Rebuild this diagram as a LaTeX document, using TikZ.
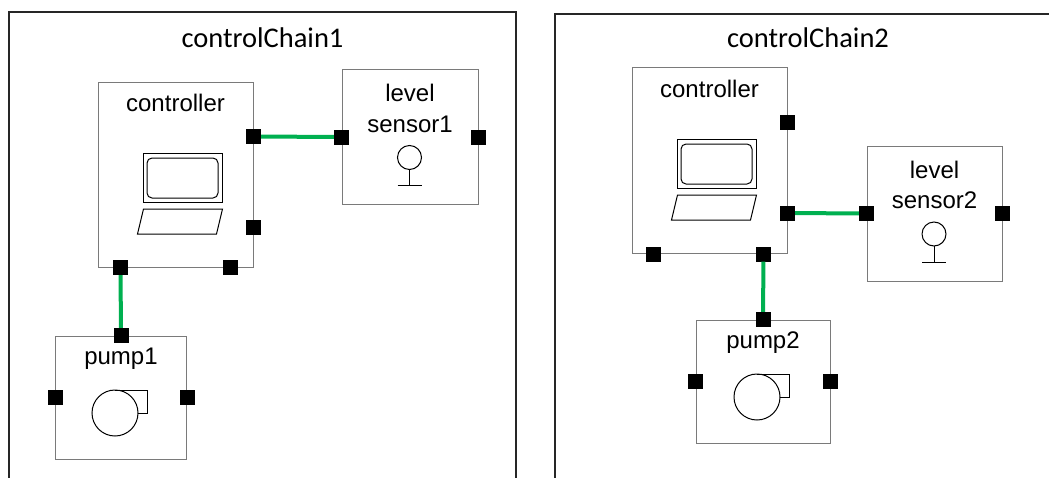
\documentclass[tikz,border=0pt]{standalone}
\usepackage{fontspec}
\setmainfont{Liberation Sans}
\newfontfamily\titlefont{Carlito}
\definecolor{wiregreen}{HTML}{00B050}
\definecolor{boxgray}{HTML}{7A7A7A}
\def\laptop#1{\begin{scope}[shift={(#1.center)},icon]
  \draw (-32,-21.5) rectangle (47,27.5);
  \draw[rounded corners=5pt] (-28.5,-16.5) rectangle (42.5,23.5);
  \draw (-32,34.5) -- (47,34.5) -- (41,59.5) -- (-38,59.5) -- cycle;
\end{scope}}
\def\pumpicon#1{\begin{scope}[shift={(#1.center)},icon]
  \draw (-6,15.5) circle[radius=23pt];
  \draw (-6,-7.5) -- (26.5,-7.5) -- (26.5,15.5) -- (17,15.5);
\end{scope}}
\def\sensoricon#1{\begin{scope}[shift={(#1.center)},icon]
  \draw (-0.5,20.5) circle[radius=12pt];
  \draw (-0.5,32.5) -- (-0.5,48.5) (-12.5,48.5) -- (11.5,48.5);
\end{scope}}
\def\dgreen{\draw[wire]}
\tikzset{
  frame/.style={draw=black!85, line width=1.5pt},
  block/.style={draw=boxgray, line width=1pt, inner sep=0pt},
  port/.style={fill=black, minimum size=15pt, inner sep=0pt},
  wire/.style={draw=wiregreen, line width=4pt},
  icon/.style={line width=1pt},
  lbl/.style={font=\fontsize{24}{29}\selectfont, inner sep=0pt},
  ttl/.style={font=\titlefont\fontsize{28.5}{34}\selectfont, inner sep=0pt}
}
\begin{document}
\begin{tikzpicture}[x=1pt,y=-1pt]
  \useasboundingbox (0,0) rectangle (1049,477);
  % left chain
  \draw[frame] (9,480) -- (9,12) -- (516,12) -- (516,480);
  \node[ttl] (ttlA) at (262.5,38) {controlChain1};
  \node[block, minimum width=155pt, minimum height=185pt] (ctrlA) at (175.5,174.5) {};
  \node[block, minimum width=136pt, minimum height=135pt] (sensA) at (410,137) {};
  \node[block, minimum width=131pt, minimum height=123pt] (pumpA) at (121,397.5) {};
  \node[lbl] (tcA) at ([yshift=-21.5pt]ctrlA.north) {controller};
  \node[lbl] (tsA1) at ([yshift=-24pt]sensA.north) {level};
  \node[lbl] (tsA2) at ([yshift=-55pt]sensA.north) {sensor1};
  \node[lbl] (tpA) at ([yshift=-23pt]pumpA.north) {pump1};
  \laptop{ctrlA}
  \sensoricon{sensA}
  \pumpicon{pumpA}
  \node[port] (cA1) at ([yshift=-55pt]ctrlA.north east) {};
  \node[port] (cA2) at ([yshift=-146pt]ctrlA.north east) {};
  \node[port] (cA3) at ([xshift=23pt]ctrlA.south west) {};
  \node[port] (cA4) at ([xshift=-23pt]ctrlA.south east) {};
  \node[port] (sA1) at (sensA.west) {};
  \node[port] (sA2) at (sensA.east) {};
  \node[port] (pA1) at (pumpA.north) {};
  \node[port] (pA2) at (pumpA.west) {};
  \node[port] (pA3) at (pumpA.east) {};
  \dgreen (cA1) -- (sA1);
  \dgreen (cA3) -- (pA1);
  % right chain
  \draw[frame] (555,480) -- (555,14) -- (1055,14);
  \node[ttl] (ttlB) at (808,38) {controlChain2};
  \node[block, minimum width=155pt, minimum height=186pt] (ctrlB) at (709.5,160.5) {};
  \node[block, minimum width=135pt, minimum height=135pt] (sensB) at (934.5,213.5) {};
  \node[block, minimum width=134pt, minimum height=123pt] (pumpB) at (763,381.5) {};
  \node[lbl] (tcB) at ([yshift=-21.5pt]ctrlB.north) {controller};
  \node[lbl] (tsB1) at ([yshift=-24pt]sensB.north) {level};
  \node[lbl] (tsB2) at ([yshift=-55pt]sensB.north) {sensor2};
  \node[lbl] (tpB) at ([yshift=-23pt]pumpB.north) {pump2};
  \laptop{ctrlB}
  \sensoricon{sensB}
  \pumpicon{pumpB}
  \node[port] (cB1) at ([yshift=-55pt]ctrlB.north east) {};
  \node[port] (cB2) at ([yshift=-146pt]ctrlB.north east) {};
  \node[port] (cB3) at ([xshift=22pt]ctrlB.south west) {};
  \node[port] (cB4) at ([xshift=-24pt]ctrlB.south east) {};
  \node[port] (sB1) at (sensB.west) {};
  \node[port] (sB2) at (sensB.east) {};
  \node[port] (pB1) at (pumpB.north) {};
  \node[port] (pB2) at (pumpB.west) {};
  \node[port] (pB3) at (pumpB.east) {};
  \dgreen (cB2) -- (sB1);
  \dgreen (cB4) -- (pB1);
\end{tikzpicture}
\end{document}
